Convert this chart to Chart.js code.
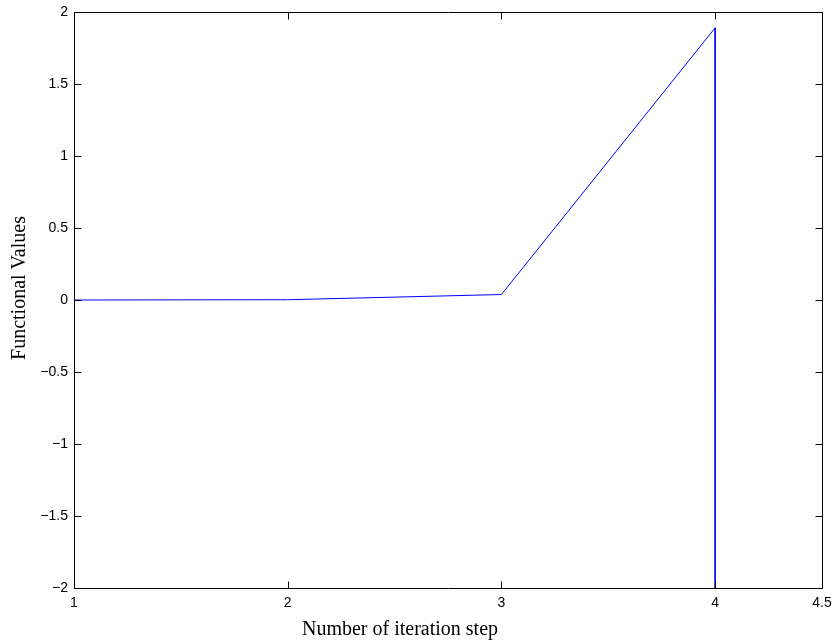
<!DOCTYPE html>
<html>
<head>
<meta charset="utf-8">
<script src="https://cdn.jsdelivr.net/npm/chart.js@4/dist/chart.umd.min.js"></script>
<style>
html,body{margin:0;padding:0;background:#fff;}
#wrap{width:834px;height:644px;position:relative;}
</style>
</head>
<body>
<div id="wrap"><canvas id="c" width="834" height="644"></canvas></div>
<script>
// Data (the last step drops far below the axis, straight down at step 4)
const iterationSteps = [1, 2, 3, 4, 4];
const functionalValues = [0, 0.002, 0.038, 1.89, -800];
const xTickValues = [1, 2, 3, 4, 4.5];
const xTickLabels = ['1', '2', '3', '4', '4.5'];
const yTickValues = [-2, -1.5, -1, -0.5, 0, 0.5, 1, 1.5, 2];
const yTickLabels = ['\u22122', '\u22121.5', '\u22121', '\u22120.5', '0', '0.5', '1', '1.5', '2'];
const xTitle = 'Number of iteration step';
const yTitle = 'Functional Values';

const points = iterationSteps.map((x, i) => ({x: x, y: functionalValues[i]}));

const boxPlugin = {
  id: 'matlabBox',
  afterDraw(chart) {
    const ctx = chart.ctx;
    const a = chart.chartArea;
    const xs = chart.scales.x, ys = chart.scales.y;
    const L = 7;
    ctx.save();
    ctx.strokeStyle = '#000';
    ctx.lineWidth = 1;
    ctx.beginPath();
    const l = Math.round(a.left) + 0.5, r = Math.round(a.right) + 0.5;
    const t = Math.round(a.top) + 0.5, b = Math.round(a.bottom) + 0.5;
    ctx.rect(l, t, r - l, b - t);
    xTickValues.forEach(v => {
      const px = Math.round(xs.getPixelForValue(v)) + 0.5;
      ctx.moveTo(px, b); ctx.lineTo(px, b - L);
      ctx.moveTo(px, t); ctx.lineTo(px, t + L);
    });
    yTickValues.forEach(v => {
      const py = Math.round(ys.getPixelForValue(v)) + 0.5;
      ctx.moveTo(l, py); ctx.lineTo(l + L, py);
      ctx.moveTo(r, py); ctx.lineTo(r - L, py);
    });
    ctx.stroke();
    // axis titles
    ctx.fillStyle = '#000';
    ctx.font = '20px "Liberation Serif", "Times New Roman", serif';
    ctx.textAlign = 'center';
    ctx.textBaseline = 'middle';
    ctx.fillText(xTitle, 400, 630);
    ctx.translate(20, 288);
    ctx.rotate(-Math.PI / 2);
    ctx.fillText(yTitle, 0, 0);
    ctx.restore();
  }
};

const tickFont = {family: '"Liberation Sans", Arial, Helvetica, sans-serif', size: 14};
function noPad(s) { s.paddingTop = 0; s.paddingBottom = 0; s.paddingLeft = 0; s.paddingRight = 0; }

new Chart(document.getElementById('c'), {
  type: 'line',
  data: {
    datasets: [{
      data: points,
      borderColor: '#0000ff',
      borderWidth: 1,
      pointRadius: 0,
      tension: 0,
      fill: false
    }]
  },
  options: {
    responsive: false,
    animation: false,
    devicePixelRatio: 1,
    layout: {padding: {top: 12, right: 12, left: 0, bottom: 0}},
    plugins: {legend: {display: false}, tooltip: {enabled: false}},
    scales: {
      x: {
        type: 'linear',
        min: 1, max: 4.5,
        afterBuildTicks: s => { s.ticks = xTickValues.map(v => ({value: v})); },
        afterFit: s => { s.height = 56; noPad(s); },
        grid: {display: false, drawTicks: false},
        border: {display: false},
        ticks: {
          color: '#000', font: tickFont, padding: 7, maxRotation: 0, autoSkip: false,
          callback: (v) => { const i = xTickValues.indexOf(v); return i >= 0 ? xTickLabels[i] : ''; }
        }
      },
      y: {
        type: 'linear',
        min: -2, max: 2,
        afterBuildTicks: s => { s.ticks = yTickValues.map(v => ({value: v})); },
        afterFit: s => { s.width = 74; noPad(s); },
        grid: {display: false, drawTicks: false},
        border: {display: false},
        ticks: {
          color: '#000', font: tickFont, padding: 6, autoSkip: false,
          callback: (v) => { const i = yTickValues.indexOf(v); return i >= 0 ? yTickLabels[i] : ''; }
        }
      }
    }
  },
  plugins: [boxPlugin]
});
</script>
</body>
</html>
